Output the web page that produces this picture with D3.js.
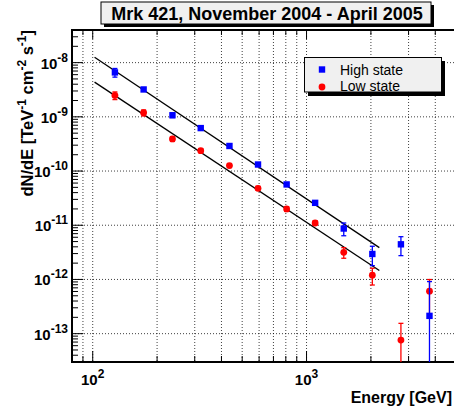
<!DOCTYPE html>
<html><head><meta charset="utf-8">
<script src="https://cdn.jsdelivr.net/npm/d3@7"></script>
<style>
html,body{margin:0;padding:0;background:#fff;overflow:hidden}
svg{display:block}
text{font-family:"Liberation Sans",Arial,Helvetica,sans-serif}
</style></head>
<body>
<svg id="c" width="454" height="413"></svg>
<script>
// ---- data ----
const title = "Mrk 421, November 2004 - April 2005";
const energies = [127, 173, 236, 320, 436, 593, 807, 1097, 1493, 2031, 2763, 3758];
const highState = [6.6e-9, 3.2e-9, 1.07e-9, 6.2e-10, 2.9e-10, 1.32e-10, 5.66e-11, 2.59e-11, 8.7e-12, 2.95e-12, 4.45e-12, 2.13e-13];
const highErr   = [1.2e-9, 0.2e-9, 0.1e-9, 0.3e-10, 0.15e-10, 0.07e-10, 0.3e-11, 0.2e-11, 2.3e-12, 1.15e-12, 1.7e-12, 7.0e-13];
const lowState  = [2.48e-9, 1.19e-9, 3.92e-10, 2.38e-10, 1.26e-10, 4.8e-11, 2.0e-11, 1.1e-11, 3.16e-12, 1.2e-12, 7.6e-14, 6.07e-13];
const lowErr    = [0.4e-9, 0.15e-9, 0.4e-10, 0.2e-10, 0.1e-10, 0.4e-11, 0.2e-11, 0.1e-11, 0.7e-12, 0.41e-12, 7.9e-14, 3.9e-13];
// power-law fits: [norm at 1 TeV, index], drawn over fitRange (GeV)
const fitRange = [102, 2190];
const fitHigh = [3.05e-11, 2.637];
const fitLow  = [1.13e-11, 2.61];
const xTickLabels = [[100, "2"], [1000, "3"]];
const yTickLabels = [[1e-8, "-8"], [1e-9, "-9"], [1e-10, "-10"], [1e-11, "-11"], [1e-12, "-12"], [1e-13, "-13"]];
const legendLabels = ["High state", "Low state"];
const xLabel = "Energy [GeV]";

// ---- layout ----
const L = 72, R = 456, T = 30, B = 362;
const svg = d3.select("#c");
const x = d3.scaleLog().domain([80, 5000]).range([L, R]);
const y = d3.scaleLog().domain([3e-14, 4e-8]).range([B, T]);
const blue = "#0000ff", red = "#ff0000";

// grid
const xGrid = [];
for (let d = 10; d <= 1000; d *= 10) for (let k = 1; k <= 9; k++) { const v = k * d; if (v > 80 && v < 5000) xGrid.push(v); }
const g = svg.append("g");
g.selectAll("line.xg").data(xGrid).join("line")
  .attr("x1", d => x(d)).attr("x2", d => x(d)).attr("y1", T).attr("y2", B)
  .attr("stroke", "#000").attr("stroke-width", 1).attr("stroke-dasharray", "1 2").attr("opacity", 0.75);
const yDec = yTickLabels.map(d => d[0]);
g.selectAll("line.yg").data(yDec).join("line")
  .attr("x1", L).attr("x2", R).attr("y1", d => y(d)).attr("y2", d => y(d))
  .attr("stroke", "#000").attr("stroke-width", 1).attr("stroke-dasharray", "1 2").attr("opacity", 0.75);

// ticks
const yMinor = [];
for (let e = -14; e <= -8; e++) for (let k = 1; k <= 9; k++) { const v = k * Math.pow(10, e); if (v >= 3e-14 && v <= 4e-8) yMinor.push([v, k === 1]); }
svg.append("g").selectAll("line").data(yMinor).join("line")
  .attr("x1", L).attr("x2", d => L + (d[1] ? 11 : 6))
  .attr("y1", d => y(d[0])).attr("y2", d => y(d[0])).attr("stroke", "#000").attr("stroke-width", 1);
const xMinor = [];
for (let d = 10; d <= 1000; d *= 10) for (let k = 1; k <= 9; k++) { const v = k * d; if (v >= 80 && v <= 5000) xMinor.push([v, k === 1]); }
svg.append("g").selectAll("line").data(xMinor).join("line")
  .attr("x1", d => x(d[0])).attr("x2", d => x(d[0]))
  .attr("y1", B).attr("y2", d => B - (d[1] ? 11 : 6)).attr("stroke", "#000").attr("stroke-width", 1);
svg.append("g").selectAll("line").data(xMinor).join("line")
  .attr("x1", d => x(d[0])).attr("x2", d => x(d[0]))
  .attr("y1", T).attr("y2", d => T + (d[1] ? 9 : 5)).attr("stroke", "#000").attr("stroke-width", 1);

// frame
svg.append("rect").attr("x", L).attr("y", T).attr("width", R - L).attr("height", B - T)
  .attr("fill", "none").attr("stroke", "#000").attr("stroke-width", 2);

// fit lines
function fitLine(p) {
  return fitRange.map(E => [x(E), y(p[0] * Math.pow(E / 1000, -p[1]))]);
}
const line = d3.line();
[fitHigh, fitLow].forEach(p => svg.append("path").attr("d", line(fitLine(p)))
  .attr("fill", "none").attr("stroke", "#000").attr("stroke-width", 1.3));

// series
function drawSeries(vals, errs, color, shape) {
  const gg = svg.append("g");
  const ymin = y.domain()[0];
  vals.forEach((v, i) => {
    const cx = x(energies[i]);
    const hi = v + errs[i], lo = v - errs[i];
    const yHi = y(hi), yLo = lo > ymin ? y(lo) : B;
    gg.append("line").attr("x1", cx).attr("x2", cx).attr("y1", yHi).attr("y2", yLo)
      .attr("stroke", color).attr("stroke-width", 1.3);
    gg.append("line").attr("x1", cx - 2.5).attr("x2", cx + 2.5).attr("y1", yHi).attr("y2", yHi)
      .attr("stroke", color).attr("stroke-width", 1.3);
    if (lo > ymin) gg.append("line").attr("x1", cx - 2.5).attr("x2", cx + 2.5).attr("y1", yLo).attr("y2", yLo)
      .attr("stroke", color).attr("stroke-width", 1.3);
    const cy = y(v);
    if (shape === "square") gg.append("rect").attr("x", cx - 3.2).attr("y", cy - 3.2).attr("width", 6.4).attr("height", 6.4).attr("fill", color);
    else gg.append("circle").attr("cx", cx).attr("cy", cy).attr("r", 3.4).attr("fill", color);
  });
}
drawSeries(lowState, lowErr, red, "circle");
drawSeries(highState, highErr, blue, "square");

// y tick labels
yTickLabels.forEach(([v, s]) => {
  const t = svg.append("text").attr("x", 68).attr("y", y(v) + 6).attr("text-anchor", "end")
    .attr("font-size", 15).attr("font-weight", "bold");
  t.append("tspan").text("10");
  t.append("tspan").attr("dy", -7).attr("font-size", 12).text(s);
});
// x tick labels
xTickLabels.forEach(([v, s]) => {
  const t = svg.append("text").attr("x", x(v)).attr("y", 385).attr("text-anchor", "middle")
    .attr("font-size", 15).attr("font-weight", "bold");
  t.append("tspan").text("10");
  t.append("tspan").attr("dy", -7).attr("font-size", 12).text(s);
});

// axis titles
svg.append("text").attr("x", 452).attr("y", 403).attr("text-anchor", "end")
  .attr("font-size", 16).attr("font-weight", "bold").text(xLabel);
const yl = svg.append("text").attr("transform", "translate(32.5,30) rotate(-90)")
  .attr("text-anchor", "end").attr("font-size", 16.5).attr("font-weight", "bold");
yl.append("tspan").text("dN/dE [TeV");
yl.append("tspan").attr("dy", -7).attr("font-size", 12).text("-1");
yl.append("tspan").attr("dy", 7).text(" cm");
yl.append("tspan").attr("dy", -7).attr("font-size", 12).text("-2");
yl.append("tspan").attr("dy", 7).text(" s");
yl.append("tspan").attr("dy", -7).attr("font-size", 12).text("-1");
yl.append("tspan").attr("dy", 7).text("]");

// title box
svg.append("rect").attr("x", 104).attr("y", 5).attr("width", 330).attr("height", 22).attr("fill", "#000");
svg.append("rect").attr("x", 101).attr("y", 2).attr("width", 330).attr("height", 22)
  .attr("fill", "#f0f0f0").attr("stroke", "#000").attr("stroke-width", 1);
svg.append("text").attr("x", 267).attr("y", 20).attr("text-anchor", "middle")
  .attr("font-size", 18).attr("font-weight", "bold").text(title);

// legend
svg.append("rect").attr("x", 308).attr("y", 61).attr("width", 137).attr("height", 35).attr("fill", "#000");
svg.append("rect").attr("x", 304.5).attr("y", 57.5).attr("width", 137).attr("height", 34.5)
  .attr("fill", "#f0f0f0").attr("stroke", "#000").attr("stroke-width", 1);
svg.append("rect").attr("x", 322 - 3.2).attr("y", 69.5 - 3.2).attr("width", 6.4).attr("height", 6.4).attr("fill", blue);
svg.append("circle").attr("cx", 322).attr("cy", 87).attr("r", 3.4).attr("fill", red);
svg.append("text").attr("x", 340).attr("y", 75).attr("font-size", 14).text(legendLabels[0]);
svg.append("text").attr("x", 340).attr("y", 91).attr("font-size", 14).text(legendLabels[1]);
</script>
</body></html>
